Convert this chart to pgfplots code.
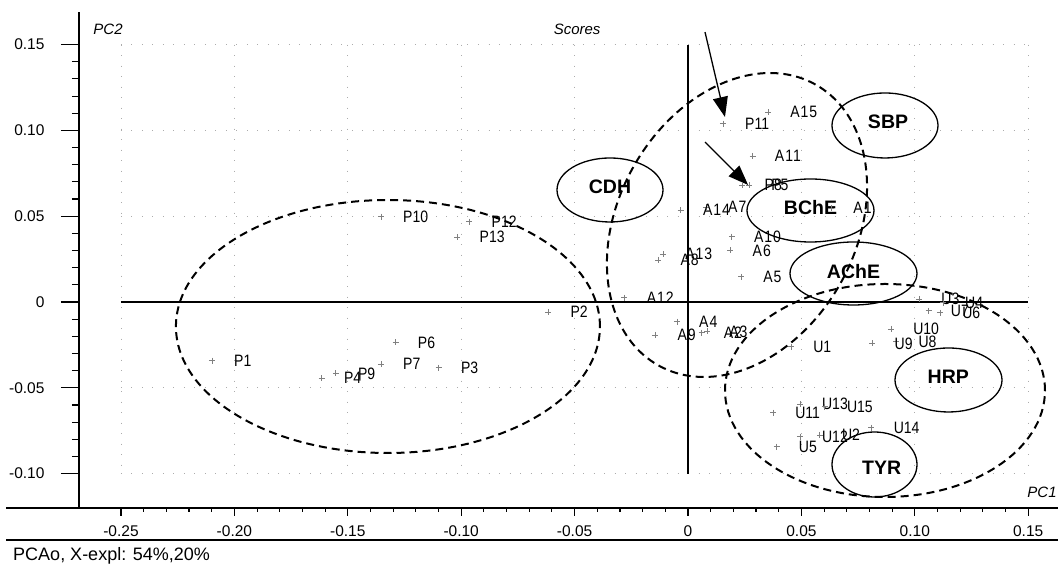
\documentclass[border=0pt]{standalone}
\usepackage{fontspec}
\setmainfont{Liberation Sans}
\newfontfamily\lblfont[FakeStretch=0.85]{Liberation Sans}
\newfontfamily\lblAfont[FakeStretch=0.85, LetterSpace=6]{Liberation Sans}
\usepackage{pgfplots}
\usepackage{pgfplotstable}
\pgfplotsset{compat=1.18}
\usetikzlibrary{arrows.meta}

\pgfplotstableread{
x y label
-0.2099 -0.0342 P1
-0.0616 -0.0058 P2
-0.1099 -0.0383 P3
-0.1615 -0.0443 P4
0.0269 0.0680 P5
-0.1289 -0.0235 P6
-0.1354 -0.0363 P7
0.0240 0.0680 P8
-0.1553 -0.0416 P9
-0.1354 0.0497 P10
0.0154 0.1039 P11
-0.0964 0.0468 P12
-0.1017 0.0377 P13
}\Pdata

\pgfplotstableread{
x y label
0.0631 0.0548 A1
0.0060 -0.0179 A2
0.0084 -0.0171 A3
-0.0049 -0.0115 A4
0.0234 0.0147 A5
0.0187 0.0301 A6
0.0079 0.0554 A7
-0.0131 0.0245 A8
-0.0144 -0.0192 A9
0.0193 0.0381 A10
0.0285 0.0851 A11
-0.0280 0.0025 A12
-0.0110 0.0278 A13
-0.0032 0.0536 A14
0.0353 0.1107 A15
}\Adata

\pgfplotstableread{
x y label
0.0454 -0.0260 U1
0.0581 -0.0775 U2
0.1019 0.0017 U3
0.1124 -0.0004 U4
0.0391 -0.0843 U5
0.1111 -0.0062 U6
0.1061 -0.0051 U7
0.0918 -0.0231 U8
0.0813 -0.0241 U9
0.0895 -0.0157 U10
0.0375 -0.0645 U11
0.0493 -0.0785 U12
0.0493 -0.0594 U13
0.0809 -0.0732 U14
0.0603 -0.0610 U15
}\Udata

\tikzset{
  gridl/.style={gray!65, line width=0.8pt, dash pattern=on 0.8pt off 9.7pt},
  grp/.style={black, line width=2pt, dash pattern=on 8pt off 5pt},
  enz/.style={black, line width=1.3pt},
  enzlbl/.style={font=\fontsize{19.5}{22}\selectfont\bfseries, inner sep=0pt},
}

\begin{document}
\begin{tikzpicture}
\pgfplotsset{
  base/.style={x=2268pt, y=1716pt, xmin=-0.26852, xmax=0.16314,
    ymin=-0.1200, ymax=0.1690, clip=false,
    tick style={black, line width=1.1pt}, tick align=outside,
    ticklabel style={font=\fontsize{15.5}{18}\selectfont}},
  pts/.style={only marks, mark=+, mark size=3pt, gray, mark options={line width=0.6pt},
    nodes near coords, point meta=explicit symbolic,
    every node near coord/.append style={anchor=west, xshift=22pt, inner sep=0pt,
      text=black, font=\fontsize{16.5}{18}\lblfont}},
}
\begin{axis}[base, axis x line=none, axis y line*=left,
  axis line style={line width=1.5pt}, xtick=\empty,
  ytick={-0.1,-0.05,0,0.05,0.1,0.15},
  yticklabels={-0.10,-0.05,0,0.05,0.10,0.15},
  yticklabel style={xshift=-13pt},
  minor y tick num=4, major tick length=18pt, minor tick length=7pt]
  % grid
  \pgfplotsinvokeforeach{-0.10,-0.05,0.05,0.10,0.15}{
    \draw[gridl] (axis cs:-0.25,#1) -- (axis cs:0.15,#1);}
  \pgfplotsinvokeforeach{-0.25,-0.20,-0.15,-0.10,-0.05,0.05,0.10,0.15}{
    \draw[gridl] (axis cs:#1,0.15) -- (axis cs:#1,-0.10);}
  % origin lines
  \draw[black, line width=1.3pt] (axis cs:-0.25,0) -- (axis cs:0.15,0);
  \draw[black, line width=1.3pt] (axis cs:0,-0.10) -- (axis cs:0,0.15);
  % group ellipses
  \draw[grp] (axis cs:-0.1323,-0.01428) ellipse [x radius=212pt, y radius=126.5pt];
  \draw[grp, rotate around={60.8:(axis cs:0.0216,0.04487)}] (axis cs:0.0216,0.04487) ellipse [x radius=160.9pt, y radius=118.8pt];
  \draw[grp] (axis cs:0.08686,-0.05157) ellipse [x radius=160pt, y radius=106.5pt];
  % enzyme ellipses
  \draw[enz] (axis cs:0.08686,0.10286) ellipse [x radius=53pt, y radius=32.5pt];
  \draw[enz] (axis cs:-0.03439,0.06527) ellipse [x radius=53pt, y radius=32pt];
  \draw[enz] (axis cs:0.05401,0.05332) ellipse [x radius=63.5pt, y radius=31.5pt];
  \draw[enz] (axis cs:0.07297,0.01661) ellipse [x radius=63.5pt, y radius=31.5pt];
  \draw[enz] (axis cs:0.11486,-0.04545) ellipse [x radius=53.5pt, y radius=32pt];
  \draw[enz] (axis cs:0.08223,-0.09470) ellipse [x radius=42.5pt, y radius=32.5pt];
  \node[enzlbl] at (axis cs:0.0882,0.1049) {SBP};
  \node[enzlbl] at (axis cs:-0.03439,0.06719) {CDH};
  \node[enzlbl] at (axis cs:0.05401,0.05478) {BChE};
  \node[enzlbl] at (axis cs:0.07297,0.01766) {AChE};
  \node[enzlbl] at (axis cs:0.11476,-0.04353) {HRP};
  \node[enzlbl] at (axis cs:0.08541,-0.09633) {TYR};
  % points
  \addplot[pts] table[x=x, y=y, meta=label] {\Pdata};
  \addplot[pts, every node near coord/.append style={font=\fontsize{16.5}{18}\lblAfont}] table[x=x, y=y, meta=label] {\Adata};
  \addplot[pts] table[x=x, y=y, meta=label] {\Udata};
  % arrows
  \draw[black, line width=1.3pt, -{Triangle[length=20pt, width=15pt]}] (axis cs:0.0075,0.1573) -- (axis cs:0.0163,0.1078);
  \draw[black, line width=1.3pt, -{Triangle[length=20pt, width=15pt]}] (axis cs:0.0075,0.0932) -- (axis cs:0.0265,0.0682);
  % texts
  \node[font=\fontsize{15}{18}\selectfont\itshape] at (axis cs:-0.2557,0.1591) {PC2};
  \node[font=\fontsize{15}{18}\selectfont\itshape] at (axis cs:-0.0489,0.1591) {Scores};
  \node[font=\fontsize{15}{18}\selectfont\itshape] at (axis cs:0.1561,-0.1107) {PC1};
  \node[anchor=west, inner sep=0pt, font=\fontsize{18}{21}\selectfont] at (axis cs:-0.2976,-0.1480) {PCAo, X-expl: 54\%,20\%};
  % bottom lines
  \draw[black, line width=2pt] (axis cs:-0.3007,-0.1200) -- (axis cs:0.16314,-0.1200);
  \draw[black, line width=2pt] (axis cs:-0.3007,-0.1387) -- (axis cs:0.16314,-0.1387);
  \coordinate (bbA) at (axis cs:-0.30335,0.17599);
  \coordinate (bbB) at (axis cs:0.16314,-0.15326);
\end{axis}
\begin{axis}[base, axis y line=none, axis x line*=bottom,
  axis line style={line width=2pt}, ytick=\empty,
  xtick={-0.25,-0.2,-0.15,-0.1,-0.05,0,0.05,0.1,0.15},
  xticklabels={-0.25,-0.20,-0.15,-0.10,-0.05,0,0.05,0.10,0.15},
  xticklabel style={yshift=-6pt},
  minor x tick num=4, major tick length=8pt, minor tick length=4pt]
\end{axis}
\pgfresetboundingbox
\useasboundingbox (bbA) rectangle (bbB);
\end{tikzpicture}
\end{document}
